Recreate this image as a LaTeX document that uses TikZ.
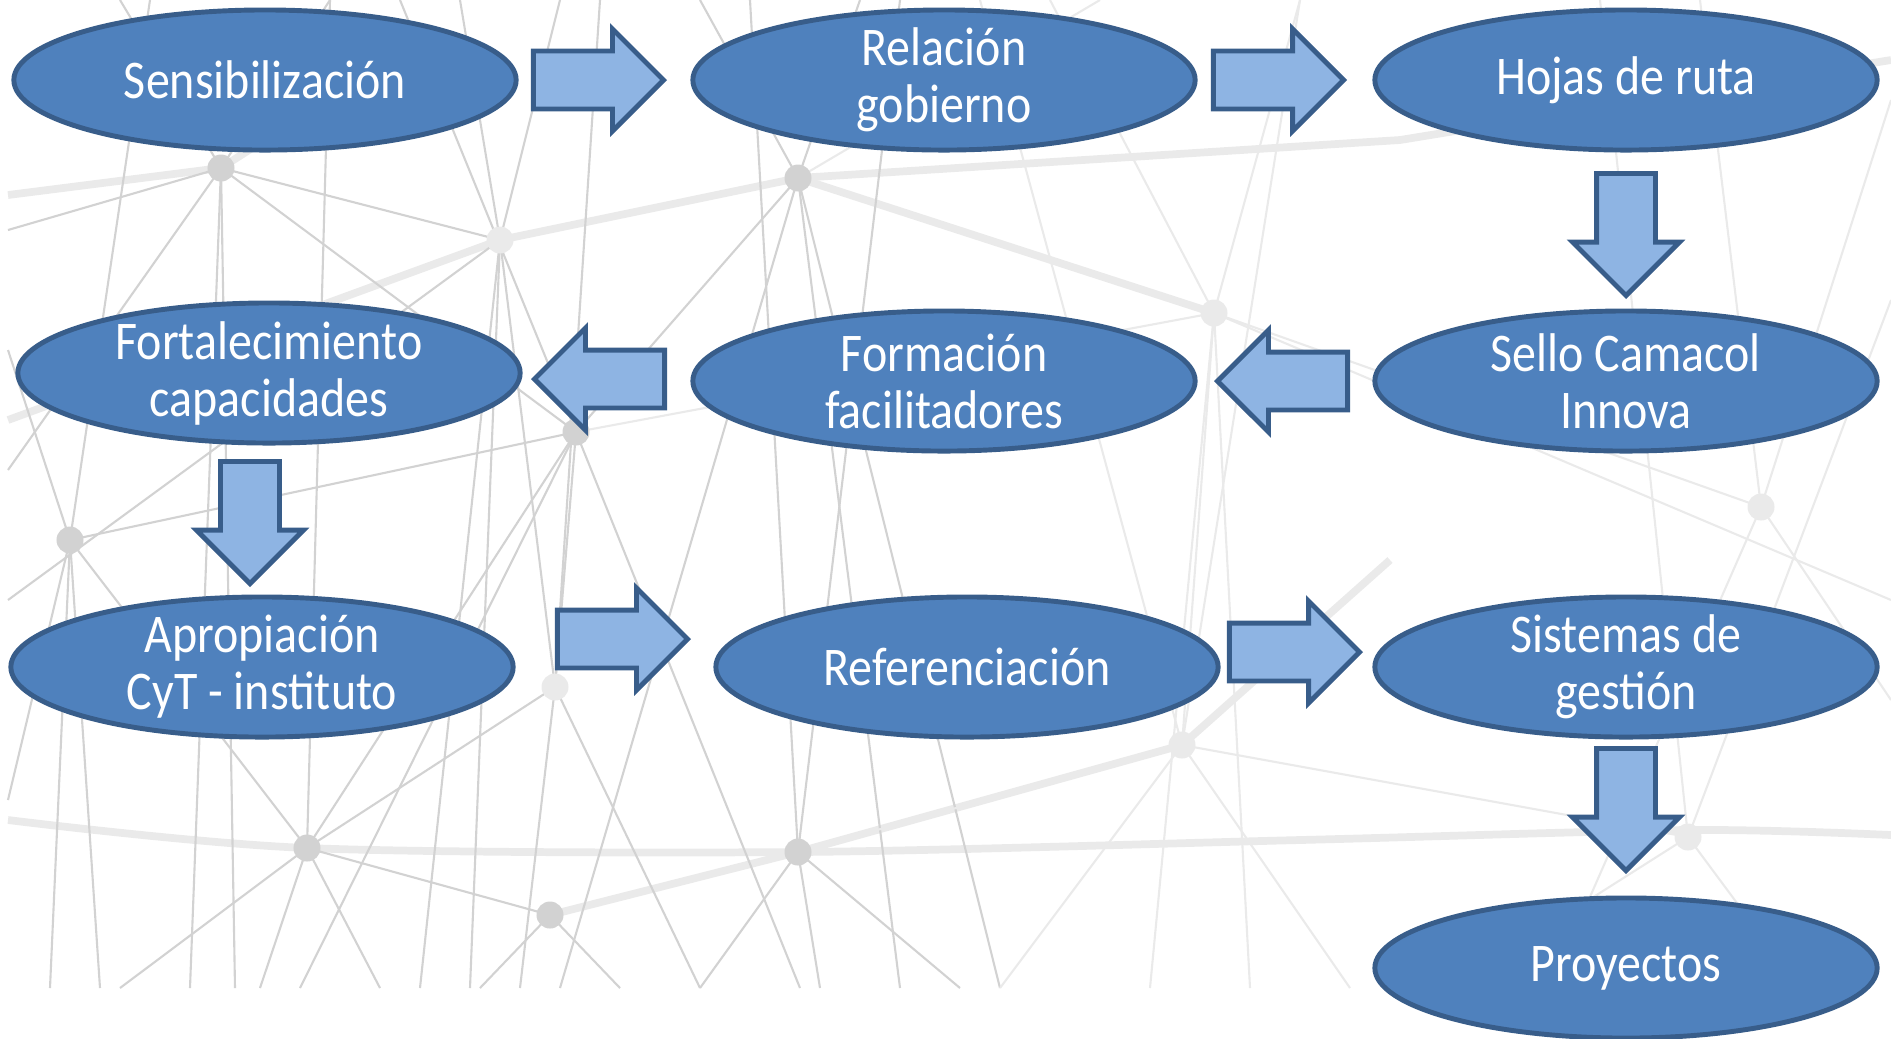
\documentclass[tikz,border=0pt]{standalone}
\usepackage{fontspec}
\setmainfont{Carlito}[FakeStretch=0.88]
\usetikzlibrary{shapes.geometric}
\usetikzlibrary{shapes.arrows}

\definecolor{azulEtapa}{HTML}{4F81BD}
\definecolor{azulBorde}{HTML}{385D8A}
\definecolor{azulFlecha}{HTML}{8EB4E3}
\definecolor{grisRed}{HTML}{D2D2D2}
\definecolor{grisSuave}{HTML}{EAEAEA}

\begin{document}
\begin{tikzpicture}[
        x=0.01cm, y=-0.01cm,
        etapa/.style={ellipse, draw=azulBorde, fill=azulEtapa, line width=1.4pt, minimum width=5.02cm, minimum height=1.40cm, inner xsep=0pt, inner ysep=-0.3cm, text=white, align=center, font=\fontsize{15.5}{16.2}\selectfont},
        paso/.style={single arrow, draw=azulBorde, fill=azulFlecha, line width=1.4pt, minimum height=1.30cm, inner xsep=0pt, inner ysep=0.265cm, single arrow head extend=0.22cm, anchor=tip},
        pasoder/.style={paso},
        pasoizq/.style={paso, rotate=180},
        pasoabajo/.style={paso, rotate=-90, minimum height=1.22cm, inner ysep=0.27cm, single arrow head extend=0.24cm},
        hilo/.style={draw=grisRed, line width=0.6pt},
        hilosuave/.style={draw=grisSuave, line width=0.6pt},
        hilogrueso/.style={draw=grisSuave, line width=2.2pt},
        nudo/.style={circle, fill=grisRed, minimum size=0.27cm, inner sep=0pt},
        nudosuave/.style={circle, fill=grisSuave, minimum size=0.27cm, inner sep=0pt}
    ]
        \useasboundingbox (0,0) rectangle (1891,1038);

        % Fondo: red de lineas
        \coordinate (n1) at (221,168);
        \coordinate (n2) at (500,240);
        \coordinate (n3) at (798,178);
        \coordinate (n4) at (1214,313);
        \coordinate (n5) at (576,432);
        \coordinate (n6) at (70,540);
        \coordinate (n7) at (555,687);
        \coordinate (n8) at (1182,745);
        \coordinate (n9) at (307,848);
        \coordinate (n10) at (798,852);
        \coordinate (n11) at (550,915);
        \coordinate (n12) at (1688,837);
        \coordinate (n13) at (1761,507);

        \draw[hilogrueso] (8,195) -- (n1) -- (420,40);
        \draw[hilogrueso] (8,420) -- (n2) -- (n3) -- (1400,140) -- (1891,60);
        \draw[hilogrueso] (n3) -- (n4);
        \draw[hilogrueso] plot[smooth] coordinates {(8,820) (307,848) (798,852) (1300,840) (1688,830) (1891,835)};
        \draw[hilogrueso] (n11) -- (n10) -- (n8) -- (1390,560);

        \foreach \p/\x/\y in {n1/120/0, n1/330/0, n1/8/230, n1/8/470, n1/190/988, n1/235/988,
                n2/460/0, n2/560/0, n2/420/988, n2/470/988, n2/8/600,
                n3/700/0, n3/860/0, n3/560/988, n3/900/988, n3/1000/988,
                n5/400/0, n5/800/988, n5/300/988,
                n6/8/350, n6/8/800, n6/100/988, n6/50/988, n6/150/0,
                n7/600/0, n7/700/988, n7/520/988,
                n9/330/0, n9/260/988, n9/120/988, n9/380/988,
                n10/750/0, n10/900/0, n10/700/988, n10/820/988, n10/960/988,
                n11/480/988, n11/620/988}
            \draw[hilo] (\p) -- (\x,\y);
        \foreach \a/\b in {n1/n2, n1/n5, n2/n7, n3/n5, n5/n7, n5/n6, n6/n9, n7/n9, n9/n11, n9/n5}
            \draw[hilo] (\a) -- (\b);
        \foreach \p/\x/\y in {n4/1050/0, n4/1300/0, n4/1150/988, n4/1250/988, n4/1891/600,
                n8/980/0, n8/1300/0, n8/1000/988, n8/1350/988,
                n12/1600/0, n12/1450/988, n12/1891/300, n12/1800/988,
                n13/1700/0, n13/1891/700, n13/1550/988, n13/1891/100, n3/1100/0}
            \draw[hilosuave] (\p) -- (\x,\y);
        \foreach \a/\b in {n4/n5, n4/n8, n8/n12, n4/n13, n8/n10}
            \draw[hilosuave] (\a) -- (\b);

        \foreach \p in {n1, n3, n5, n6, n9, n10, n11}
            \node[nudo] at (\p) {};
        \foreach \p in {n2, n4, n7, n8, n12, n13}
            \node[nudosuave] at (\p) {};

        % Fila 1
        \node[etapa] (sens) at (265,80) {Sensibilización};
        \node[etapa] (gob) at (944,80) {Relación\\gobierno};
        \node[etapa] (hojas) at (1626,80) {Hojas de ruta};

        % Fila 2
        \node[etapa] (sello) at (1626,381) {Sello Camacol\\Innova};
        \node[etapa] (form) at (944,381) {Formación\\facilitadores};
        \node[etapa] (fort) at (269,373) {Fortalecimiento\\capacidades};

        % Fila 3
        \node[etapa] (apro) at (262,667) {Apropiación\\CyT - instituto};
        \node[etapa] (ref) at (967,667) {Referenciación};
        \node[etapa] (sist) at (1626,667) {Sistemas de\\gestión};
        \node[etapa] (proy) at (1626,968) {Proyectos};

        % Flechas (colocadas por la punta)
        \node[pasoder] (f1) at (667,80) {};
        \node[pasoder] (f2) at (1347,80) {};
        \node[pasoabajo] (f3) at (1626,299) {};
        \node[pasoizq] (f4) at (1214,381) {};
        \node[pasoizq] (f5) at (531,379) {};
        \node[pasoabajo] (f6) at (250,587) {};
        \node[pasoder] (f7) at (691,639) {};
        \node[pasoder] (f8) at (1363,652) {};
        \node[pasoabajo] (f9) at (1626,874) {};
\end{tikzpicture}
\end{document}
